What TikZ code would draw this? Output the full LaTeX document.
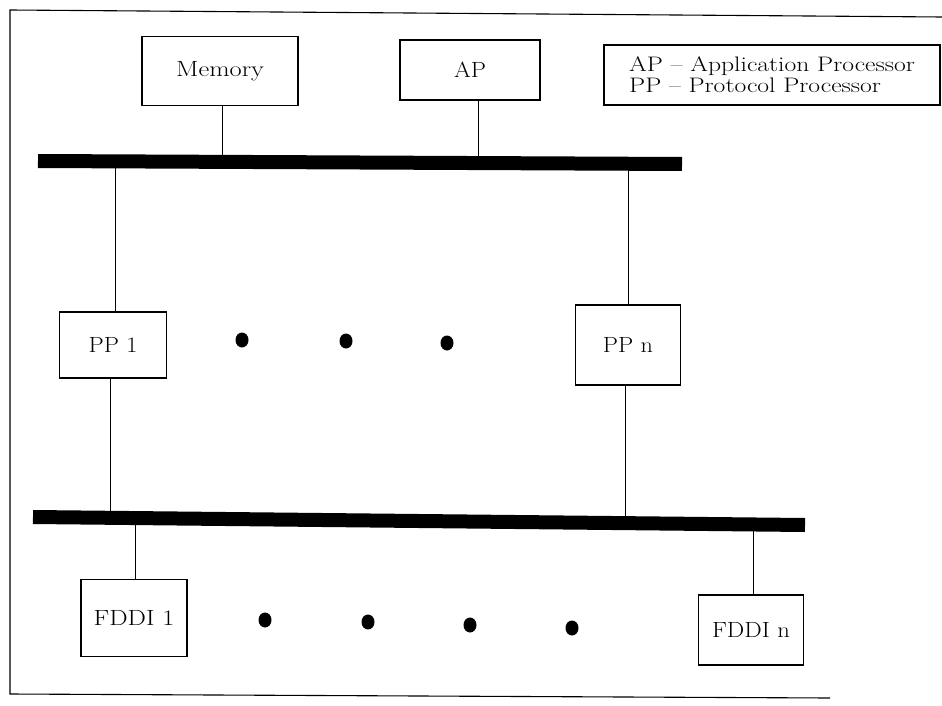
\documentclass[tikz,border=0pt]{standalone}
\usepackage{fontspec}
\usetikzlibrary{shapes.geometric}
\newcommand\stretchtext[2][1.1]{\scalebox{#1}[1]{#2}}
\begin{document}
\begin{tikzpicture}[x=1pt,y=-1pt,
  box/.style={draw,line width=1.1pt,minimum width=#1,inner sep=0pt,font=\fontsize{22}{24}\selectfont},
  bus/.style={line width=14pt},
  link/.style={line width=0.8pt},
  dot/.style={fill,ellipse,minimum width=13pt,minimum height=15pt,inner sep=0pt}]
\useasboundingbox (0,0) rectangle (942,706);
\draw[line width=1.1pt] (830,698) -- (10,694) -- (10,10) -- (942,17);
% top row
\node[box=156pt,minimum height=69pt] (mem) at (220,71) {\stretchtext[1.2]{Memory}};
\node[box=140pt,minimum height=60pt] (ap) at (470,70) {\stretchtext{AP}};
\node[draw,line width=1.1pt,align=left,inner sep=0pt,minimum width=336pt,minimum height=60pt,font=\fontsize{21}{21}\selectfont] (leg) at (772,75) {\stretchtext[1.22]{AP -- Application Processor}\\\stretchtext[1.22]{PP -- Protocol Processor}};
% buses
\coordinate (b1l) at (38,161); \coordinate (b1r) at (682,164);
\draw[bus] (b1l) -- (b1r);
\coordinate (b2l) at (33,517); \coordinate (b2r) at (805,525);
\draw[bus] (b2l) -- (b2r);
% PP row
\node[box=107pt,minimum height=66pt] (pp1) at (113,345) {\stretchtext{PP 1}};
\node[box=105pt,minimum height=80pt] (ppn) at (628,345) {\stretchtext{PP n}};
% FDDI row
\node[box=106pt,minimum height=77pt] (f1) at (134,618) {\stretchtext[1.18]{FDDI 1}};
\node[box=105pt,minimum height=70pt] (fn) at (751,630) {\stretchtext[1.12]{FDDI n}};
% connectors
\coordinate (c1) at (222,155); \draw[link] (mem.south -| c1) -- (c1);
\coordinate (c2) at (478,156); \draw[link] (ap.south -| c2) -- (c2);
\coordinate (c3) at (115,168); \draw[link] (c3) -- (pp1.north -| c3);
\coordinate (c4) at (628,169); \draw[link] (c4) -- (ppn.north -| c4);
\coordinate (c5) at (110,512); \draw[link] (pp1.south -| c5) -- (c5);
\coordinate (c6) at (625,516); \draw[link] (ppn.south -| c6) -- (c6);
\coordinate (c7) at (135,522); \draw[link] (c7) -- (f1.north -| c7);
\coordinate (c8) at (753,528); \draw[link] (c8) -- (fn.north -| c8);
% dots
\node[dot] (d1) at (242,340) {};
\node[dot] (d2) at (346,341) {};
\node[dot] (d3) at (447,343) {};
\node[dot] (e1) at (265,620) {};
\node[dot] (e2) at (368,622) {};
\node[dot] (e3) at (470,625) {};
\node[dot] (e4) at (572,628) {};
\end{tikzpicture}
\end{document}
